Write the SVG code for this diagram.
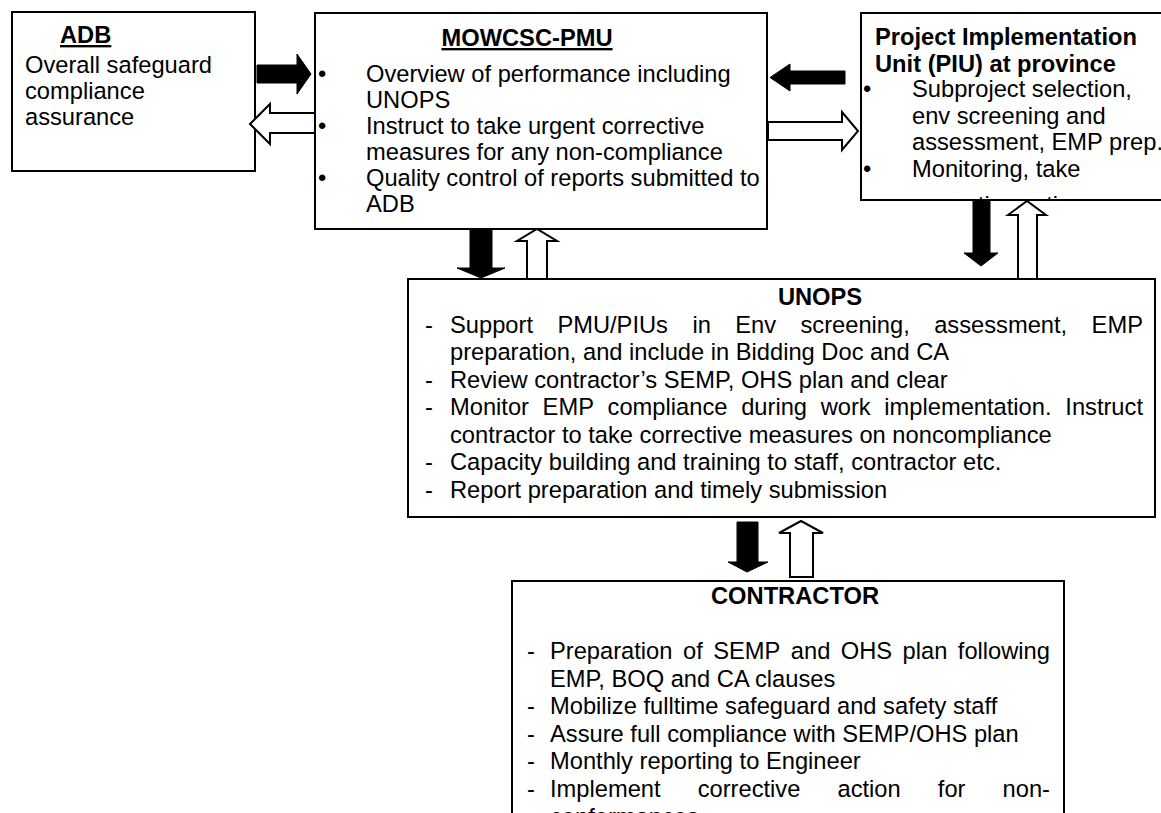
<svg xmlns="http://www.w3.org/2000/svg" width="1161" height="813" viewBox="0 0 1161 813">
<style>
.box{fill:#fff;stroke:#000;stroke-width:2}
.t{font-family:"Liberation Sans",Arial,sans-serif;font-size:23.7px;fill:#000}
.b{font-weight:bold}
.u{text-decoration:underline}
.blk{fill:#000;stroke:#000;stroke-width:1}
.wht{fill:#fff;stroke:#000;stroke-width:2;stroke-linejoin:miter}
</style>
<defs>
<clipPath id="piuClip"><rect x="861" y="13" width="310" height="187"/></clipPath>
</defs>
<rect width="1161" height="813" fill="#fff"/>

<g id="adb">
<rect class="box" x="12" y="12" width="243" height="159"/>
<text class="t b u" x="60" y="43">ADB</text>
<text class="t" x="25" y="73">Overall safeguard</text>
<text class="t" x="25" y="99">compliance</text>
<text class="t" x="25" y="125">assurance</text>
</g>

<g id="pmu">
<rect class="box" x="315" y="13" width="452" height="216"/>
<text class="t b u" x="527" y="46" text-anchor="middle">MOWCSC-PMU</text>
<text class="t" x="318" y="82">•</text>
<text class="t" x="366" y="82">Overview of performance including</text>
<text class="t" x="366" y="108">UNOPS</text>
<text class="t" x="318" y="134">•</text>
<text class="t" x="366" y="134">Instruct to take urgent corrective</text>
<text class="t" x="366" y="160">measures for any non-compliance</text>
<text class="t" x="318" y="186">•</text>
<text class="t" x="366" y="186">Quality control of reports submitted to</text>
<text class="t" x="366" y="212">ADB</text>
</g>

<g id="piu">
<rect class="box" x="861" y="13" width="320" height="187"/>
<g clip-path="url(#piuClip)">
<text class="t b" x="875" y="45">Project Implementation</text>
<text class="t b" x="875" y="72">Unit (PIU) at province</text>
<text class="t" x="863" y="97">•</text>
<text class="t" x="912" y="97">Subproject selection,</text>
<text class="t" x="912" y="124">env screening and</text>
<text class="t" x="912" y="150">assessment, EMP prep.</text>
<text class="t" x="863" y="177">•</text>
<text class="t" x="912" y="177">Monitoring, take</text>
<text class="t" x="912" y="213">corrective action</text>
</g>
<rect x="861" y="13" width="320" height="187" fill="none" stroke="#000" stroke-width="2"/>
</g>

<g id="unops">
<rect class="box" x="408" y="279" width="747" height="238"/>
<text class="t b" x="820" y="305" text-anchor="middle">UNOPS</text>
<text class="t" x="425" y="332.5">-</text>
<text class="t" y="332.5"><tspan x="450">Support</tspan><tspan x="557.4">PMU/PIUs</tspan><tspan x="692.4">in</tspan><tspan x="735.3">Env</tspan><tspan x="800.5">screening,</tspan><tspan x="934.2">assessment,</tspan><tspan x="1091.6">EMP</tspan></text>
<text class="t" x="450" y="360">preparation, and include in Bidding Doc and CA</text>
<text class="t" x="425" y="387.5">-</text>
<text class="t" x="450" y="387.5">Review contractor’s SEMP, OHS plan and clear</text>
<text class="t" x="425" y="415">-</text>
<text class="t" y="415"><tspan x="450">Monitor</tspan><tspan x="542.6">EMP</tspan><tspan x="607.6">compliance</tspan><tspan x="741.2">during</tspan><tspan x="820.7">work</tspan><tspan x="884.3">implementation.</tspan><tspan x="1065.3">Instruct</tspan></text>
<text class="t" x="450" y="442.5">contractor to take corrective measures on noncompliance</text>
<text class="t" x="425" y="470">-</text>
<text class="t" x="450" y="470">Capacity building and training to staff, contractor etc.</text>
<text class="t" x="425" y="497.5">-</text>
<text class="t" x="450" y="497.5">Report preparation and timely submission</text>
</g>

<g id="contractor">
<rect class="box" x="512" y="581" width="552" height="260"/>
<text class="t b" x="795" y="604" text-anchor="middle">CONTRACTOR</text>
<text class="t" x="527" y="659">-</text>
<text class="t" y="659"><tspan x="550">Preparation</tspan><tspan x="683">of</tspan><tspan x="713.2">SEMP</tspan><tspan x="790.8">and</tspan><tspan x="840.8">OHS</tspan><tspan x="902.6">plan</tspan><tspan x="957.8">following</tspan></text>
<text class="t" x="550" y="687">EMP, BOQ and CA clauses</text>
<text class="t" x="527" y="714">-</text>
<text class="t" x="550" y="714">Mobilize fulltime safeguard and safety staff</text>
<text class="t" x="527" y="742">-</text>
<text class="t" x="550" y="742">Assure full compliance with SEMP/OHS plan</text>
<text class="t" x="527" y="769">-</text>
<text class="t" x="550" y="769">Monthly reporting to Engineer</text>
<text class="t" x="527" y="797">-</text>
<text class="t" y="797"><tspan x="550">Implement</tspan><tspan x="697.7">corrective</tspan><tspan x="837.5">action</tspan><tspan x="937.8">for</tspan><tspan x="1002.6">non-</tspan></text>
<text class="t" x="550" y="825">conformances</text>
</g>

<g id="connectors">
<polygon class="blk" points="257,65 297,65 297,54 311,74 297,94 297,83 257,83"/>
<polygon class="wht" points="315,113 270,113 270,104 250,124 270,144 270,133 315,133"/>
<polygon class="blk" points="845,71 790,71 790,64 770,77.5 790,91 790,84 845,84"/>
<polygon class="wht" points="768,122 842,122 842,112 858,131 842,150 842,140 768,140"/>
<polygon class="blk" points="470,230 492,230 492,268 505,268 481,278 457,268 470,268"/>
<polygon class="wht" points="527,279 527,241 517,241 537,229 557,241 547,241 547,279"/>
<polygon class="blk" points="973,201 990,201 990,253 998,253 981,266 964,253 973,253"/>
<polygon class="wht" points="1018,279 1018,215 1008,215 1027,201 1046,215 1037,215 1037,279"/>
<polygon class="blk" points="737,522 758,522 758,562 768,562 747,572 728,562 737,562"/>
<polygon class="wht" points="790,577 790,533 779,533 801,521 823,533 813,533 813,577"/>
</g>
</svg>
